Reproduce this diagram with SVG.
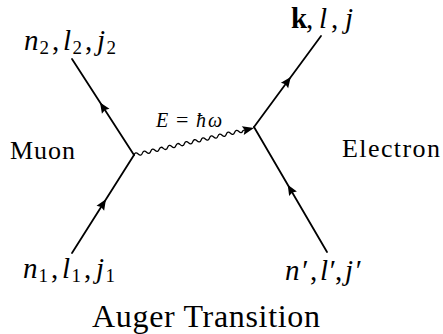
<svg xmlns="http://www.w3.org/2000/svg" xmlns:xlink="http://www.w3.org/1999/xlink" width="443" height="334" viewBox="0 0 443 334">
<style>
.t{font-family:"Liberation Serif","DejaVu Serif",serif;fill:#000}
.m{font-family:"Liberation Serif","DejaVu Serif",serif;fill:#000;font-size:29px}
.i{font-style:italic}
.s{font-size:19px}
.ln{stroke:#000;stroke-width:1.8;fill:none;stroke-linecap:round}
.wv{stroke:#000;stroke-width:1.3;fill:none}
</style>
<defs>
<path id="ah" d="M5.5,0 L-5,-4.5 L-3.5,0 L-5,4.5 Z" fill="#000"/>
</defs>
<g id="connectors">
<line class="ln" x1="134" y1="155" x2="72" y2="59"/>
<line class="ln" x1="72" y1="253" x2="134" y2="155"/>
<line class="ln" x1="254" y1="127" x2="321" y2="36"/>
<line class="ln" x1="327" y1="252" x2="254" y2="127"/>
<use xlink:href="#ah" transform="translate(103,107) rotate(-122.9)"/>
<use xlink:href="#ah" transform="translate(103,204) rotate(-57.7)"/>
<use xlink:href="#ah" transform="translate(287.5,81.5) rotate(-53.6)"/>
<use xlink:href="#ah" transform="translate(290.5,189.5) rotate(-120.3)"/>
<g transform="translate(134,155) rotate(-12.68)">
<path class="wv" d="M0,0 q2.15,-3.2 4.3,0 t4.3,0 t4.3,0 t4.3,0 t4.3,0 t4.3,0 t4.3,0 t4.3,0 t4.3,0 t4.3,0 t4.3,0 t4.3,0 t4.3,0 t4.3,0 t4.3,0 t4.3,0 t4.3,0 t4.3,0 t4.3,0 t4.3,0 t4.3,0 t4.3,0 t4.3,0 t4.3,0 t4.3,0 t4.3,0 L115,0"/>
<path d="M123,0 L111.5,-4.5 L113.5,0 L111.5,4.5 Z" fill="#000"/>
</g>
</g>
<g id="muon-top"><text class="m" y="50"><tspan class="i" x="24">n</tspan><tspan class="s" x="39.5" y="54">2</tspan><tspan x="52" y="50">,</tspan><tspan class="i" x="63">l</tspan><tspan class="s" x="72.5" y="54">2</tspan><tspan x="85" y="50">,</tspan><tspan class="i" x="97">j</tspan><tspan class="s" x="106.5" y="54">2</tspan></text></g>
<g id="muon-bottom"><text class="m" y="278"><tspan class="i" x="23">n</tspan><tspan class="s" x="38.5" y="282">1</tspan><tspan x="51" y="278">,</tspan><tspan class="i" x="62">l</tspan><tspan class="s" x="71.5" y="282">1</tspan><tspan x="84" y="278">,</tspan><tspan class="i" x="96">j</tspan><tspan class="s" x="105.5" y="282">1</tspan></text></g>
<g id="electron-top"><text class="m" y="28"><tspan x="291" font-weight="bold">k</tspan><tspan x="306">,</tspan><tspan class="i" x="319">l</tspan><tspan x="331">,</tspan><tspan class="i" x="345">j</tspan></text></g>
<g id="electron-bottom"><text class="m" y="280"><tspan class="i" x="285">n</tspan><tspan class="i" x="300.5">′</tspan><tspan x="310">,</tspan><tspan class="i" x="320">l</tspan><tspan class="i" x="328">′</tspan><tspan x="335">,</tspan><tspan class="i" x="345">j</tspan><tspan class="i" x="354">′</tspan></text></g>
<g id="photon-label"><text class="t" y="127" font-size="20"><tspan class="i" x="156">E</tspan><tspan x="176" font-size="22">=</tspan><tspan class="i" x="196">ħ</tspan><tspan class="i" x="208">ω</tspan></text></g>
<g id="muon"><text class="t" x="10" y="159" font-size="26" textLength="65">Muon</text></g>
<g id="electron"><text class="t" x="342" y="157" font-size="26" textLength="98">Electron</text></g>
<g id="title"><text class="t" x="92" y="327" font-size="32" textLength="228">Auger Transition</text></g>
</svg>
